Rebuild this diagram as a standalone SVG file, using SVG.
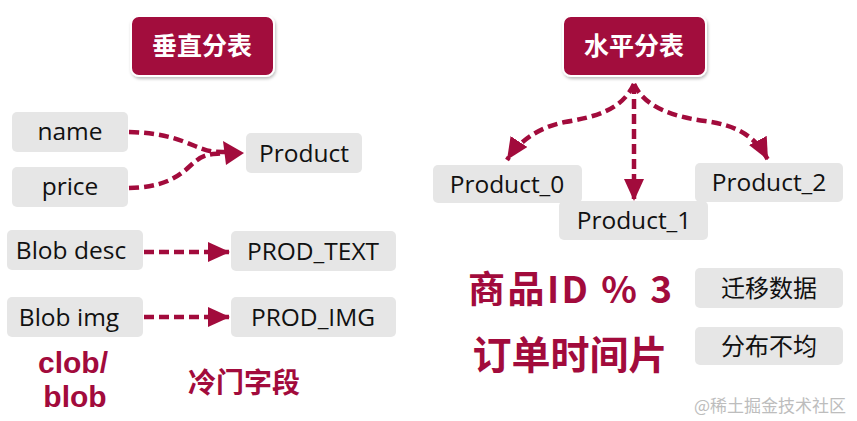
<svg xmlns="http://www.w3.org/2000/svg" width="857" height="421" viewBox="0 0 857 421">
<defs>
<marker id="ah" markerUnits="userSpaceOnUse" markerWidth="26" markerHeight="22" refX="22" refY="10" orient="auto">
<path d="M0,0 L22,10 L0,20 Z" fill="#a20b3c"/>
</marker>
<filter id="sh" x="-10%" y="-10%" width="130%" height="140%">
<feDropShadow dx="1" dy="2" stdDeviation="1.5" flood-color="#000" flood-opacity="0.25"/>
</filter>
</defs>
<style>
.title rect{fill:#a20b3c;stroke:#fff;stroke-width:2;filter:url(#sh)}
.title text{fill:#fff;font-family:"Noto Sans CJK SC",sans-serif;font-weight:bold;font-size:25px;text-anchor:middle}
.box rect{fill:#e6e6e6}
.box text{fill:#111;font-family:"Open Sans","Noto Sans",sans-serif;font-size:24.5px;text-anchor:middle}
.box text.cjk{font-family:"Noto Sans CJK SC",sans-serif;font-size:24px}
.red{fill:#a20b3c;font-weight:bold;font-family:"Noto Sans CJK SC","Open Sans",sans-serif}
.lat{font-family:"Liberation Sans",Arial,sans-serif}
.conn path{fill:none;stroke:#a20b3c;stroke-width:4.5;stroke-dasharray:10 5}
</style>
<rect width="857" height="421" fill="#fff"/>

<g id="title-vertical" class="title"><rect x="131" y="16" width="143" height="60" rx="8"/><text x="202" y="55">垂直分表</text></g>
<g id="title-horizontal" class="title"><rect x="563" y="16" width="143" height="60" rx="8"/><text x="634" y="55">水平分表</text></g>

<g id="name" class="box"><rect x="12" y="112" width="116" height="40" rx="5"/><text x="70" y="140">name</text></g>
<g id="price" class="box"><rect x="12" y="167" width="116" height="40" rx="5"/><text x="70" y="195">price</text></g>
<g id="product" class="box"><rect x="246" y="133" width="116" height="40" rx="5"/><text x="304" y="162">Product</text></g>
<g id="blob-desc" class="box"><rect x="7" y="230" width="136" height="40" rx="5"/><text x="71" y="259">Blob desc</text></g>
<g id="prod-text" class="box"><rect x="231" y="231" width="165" height="40" rx="5"/><text x="313" y="260">PROD_TEXT</text></g>
<g id="blob-img" class="box"><rect x="7" y="297" width="136" height="40" rx="5"/><text x="69" y="326">Blob img</text></g>
<g id="prod-img" class="box"><rect x="231" y="297" width="165" height="40" rx="5"/><text x="313" y="326">PROD_IMG</text></g>

<g id="product0" class="box"><rect x="433" y="165" width="149" height="38" rx="5"/><text x="507" y="193">Product_0</text></g>
<g id="product1" class="box"><rect x="559" y="201" width="149" height="39" rx="5"/><text x="634" y="229">Product_1</text></g>
<g id="product2" class="box"><rect x="695" y="163" width="148" height="39" rx="5"/><text x="769" y="191">Product_2</text></g>

<g id="migrate" class="box"><rect x="695" y="268" width="148" height="40" rx="5"/><text class="cjk" x="769" y="297">迁移数据</text></g>
<g id="uneven" class="box"><rect x="695" y="327" width="148" height="38" rx="5"/><text class="cjk" x="769" y="355">分布不均</text></g>

<g id="labels">
<text class="red lat" x="73" y="373" font-size="30" text-anchor="middle">clob/</text>
<text class="red lat" x="75" y="407" font-size="30" text-anchor="middle">blob</text>
<text class="red" x="244" y="393" font-size="28" text-anchor="middle">冷门字段</text>
<text class="red" x="468" y="303" font-size="37" textLength="204">商品ID % 3</text>
<text class="red" x="570" y="369" font-size="39" text-anchor="middle">订单时间片</text>
<text x="770" y="412" font-size="17" fill="#bdbdbd" text-anchor="middle" font-family="Noto Sans CJK SC,sans-serif">@稀土掘金技术社区</text>
</g>

<g id="connectors" class="conn">
<path d="M129,132 C165,133 180,140 195,146 S212,152 226,152"/>
<path d="M129,188 C160,187 175,180 190,166 S210,155 226,153"/>
<polygon points="244,153 223,141 226,165" fill="#a20b3c"/>
<path d="M144,252 L230,252" marker-end="url(#ah)"/>
<path d="M144,317 L230,317" marker-end="url(#ah)"/>
<path d="M634,84 C622,110 595,117 565,122 C540,127 520,140 507,160" marker-end="url(#ah)"/>
<path d="M634,84 L634,201" marker-end="url(#ah)"/>
<path d="M634,84 C645,108 675,117 705,121 C735,125 755,135 768,160" marker-end="url(#ah)"/>
</g>
</svg>
